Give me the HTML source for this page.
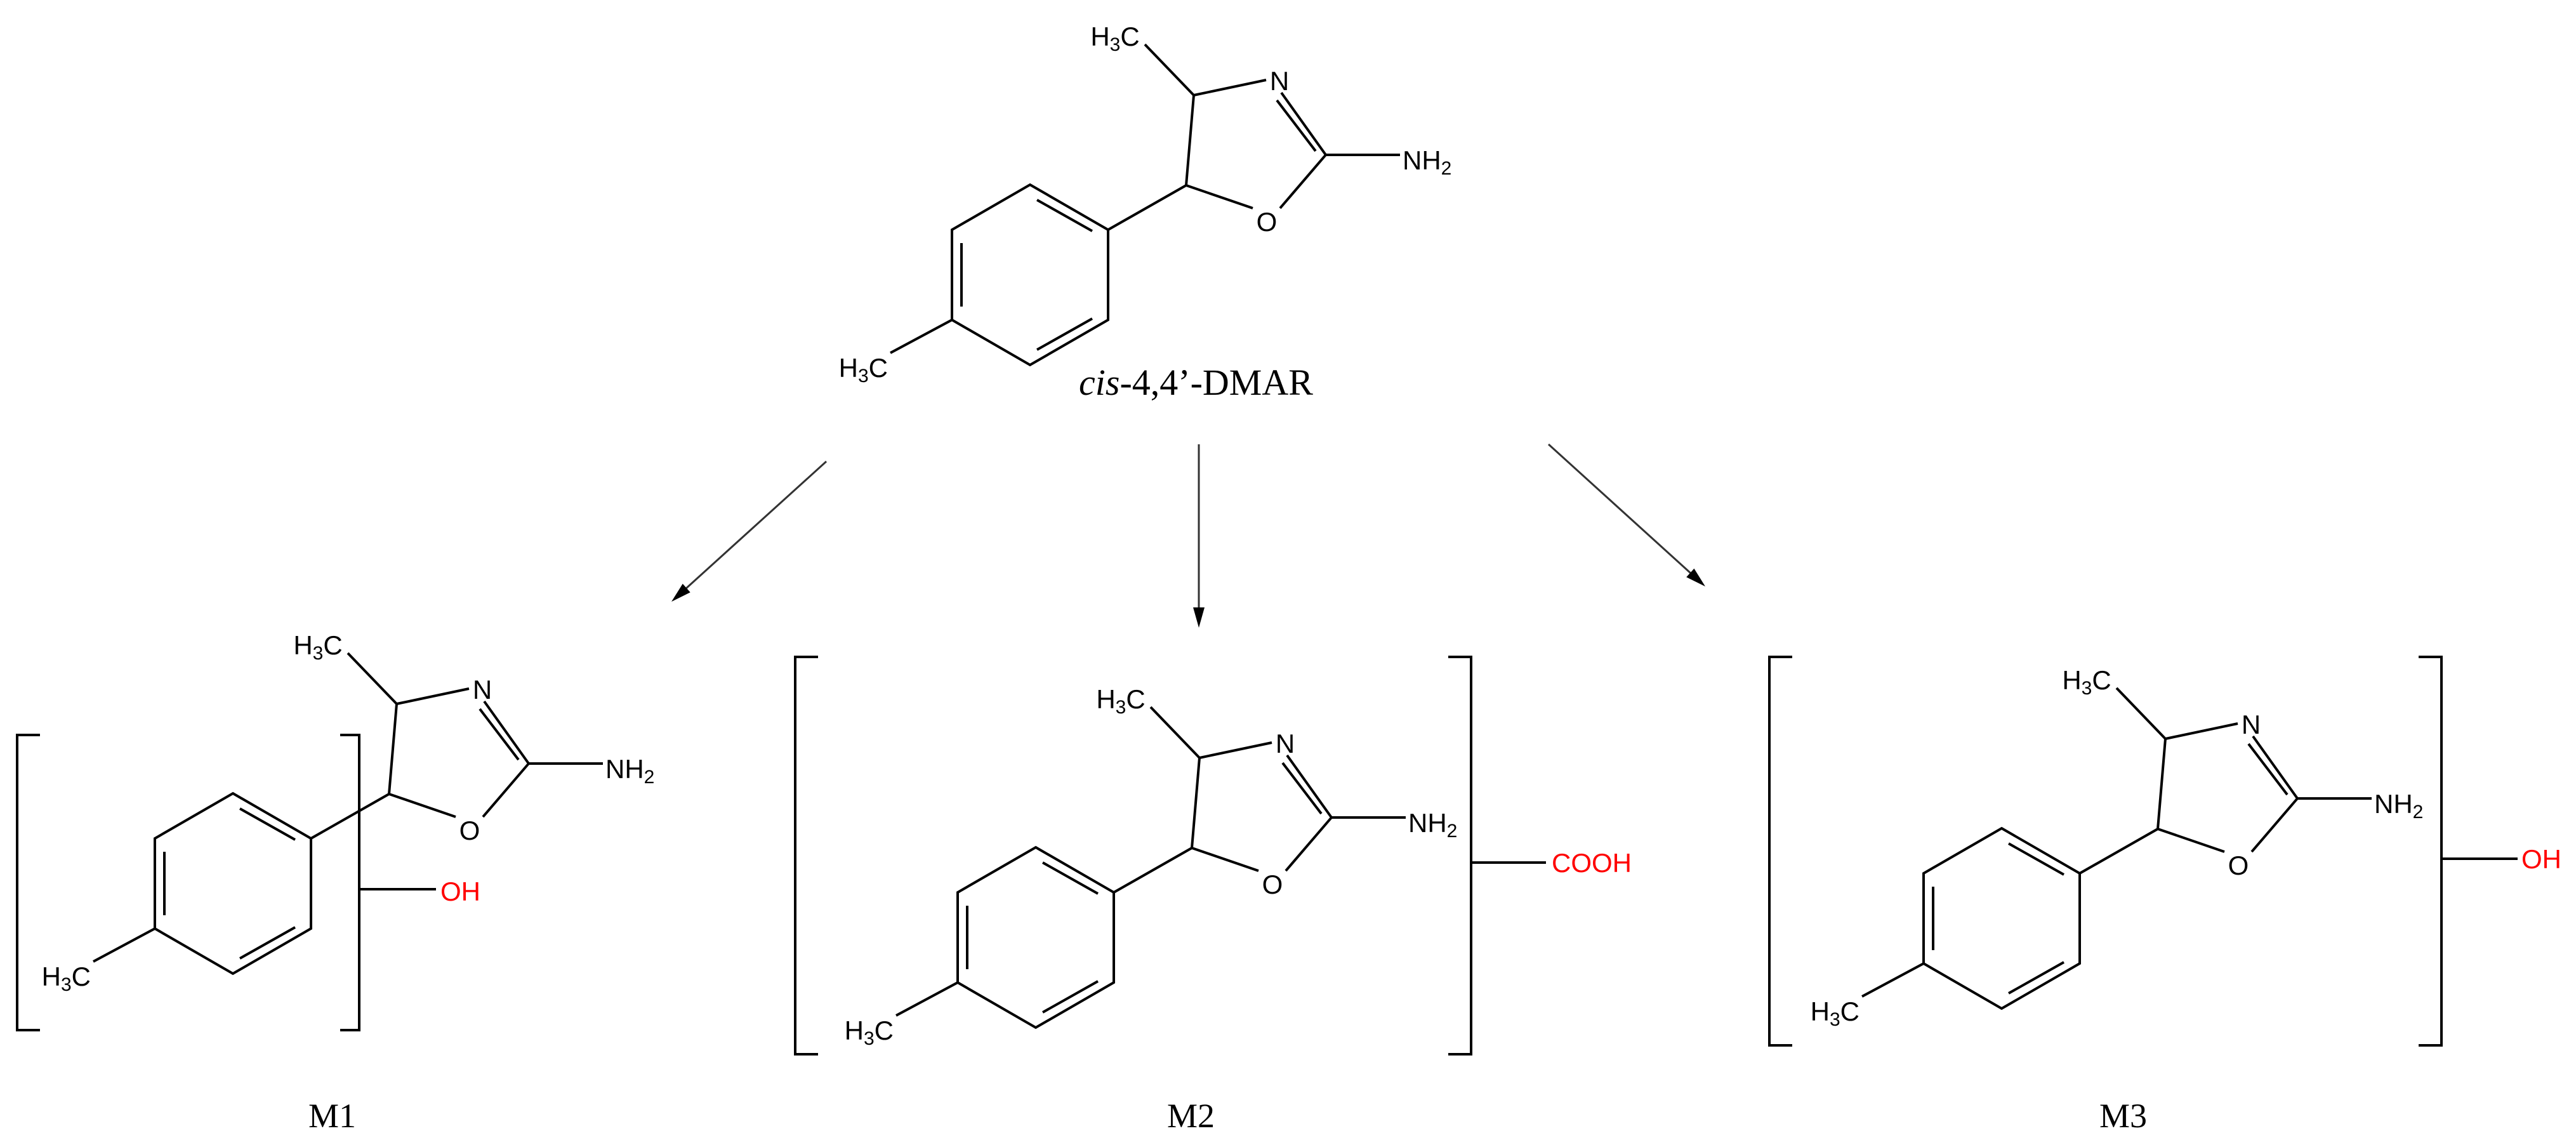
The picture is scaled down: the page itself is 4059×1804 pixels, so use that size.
<!DOCTYPE html>
<html><head><meta charset="utf-8"><style>
html,body{margin:0;padding:0;background:#fff;}
svg{display:block;}
.b{stroke:#000;stroke-width:4;fill:none;stroke-linecap:butt;}
.t{font-family:"Liberation Sans",Arial,sans-serif;font-size:42px;fill:#000;}
.r{fill:#ff0000;}
.m{font-family:"Liberation Serif","Times New Roman",serif;font-size:54px;fill:#000;}
</style></head><body>
<svg width="4059" height="1804" viewBox="0 0 4059 1804" xmlns="http://www.w3.org/2000/svg">

<!-- top molecule -->
<g transform="translate(1869,292)">
<path class="b" d="M0,0 L12,-142 M12,-142 L-65,-222 M12,-142 L126,-166 M150,-146 L220,-48 M143,-134 L204,-54 M220,-48 L337,-48 M220,-48 L148,36 M105,36 L0,0 M0,0 L-123,70 M-246,-1 L-123,70 L-123,212 L-246,283 L-369,212 L-369,70 Z M-235,23 L-148,72 M-354,91 L-354,191 M-148,210 L-235,259 M-369,212 L-466,264"/>
<text class="t" x="-112" y="-220" text-anchor="middle">H<tspan font-size="30" dy="8">3</tspan><tspan dy="-8">C</tspan></text>
<text class="t" x="147" y="-150" text-anchor="middle">N</text>
<text class="t" x="127" y="72" text-anchor="middle">O</text>
<text class="t" x="341" y="-25">NH<tspan font-size="30" dy="8">2</tspan></text>
<text class="t" x="-470" y="302" text-anchor="end">H<tspan font-size="30" dy="8">3</tspan><tspan dy="-8">C</tspan></text>
</g>
<text x="1700" y="622" style="font-family:'Liberation Serif',serif;font-size:58px"><tspan font-style="italic">cis</tspan>-4,4’-DMAR</text>

<!-- arrows -->
<g stroke="#333" stroke-width="3" fill="none">
<line x1="1302" y1="727" x2="1080" y2="928"/>
<line x1="1889" y1="700" x2="1889" y2="960"/>
<line x1="2440" y1="700" x2="2665" y2="904"/>
</g>
<polygon points="1058,948 1087.7,933.2 1075.7,919.8" fill="#000"/>
<polygon points="1889,989 1880,957 1898,957" fill="#000"/>
<polygon points="2687,924 2657.2,909.2 2669.4,895.8" fill="#000"/>

<!-- M1 -->
<g transform="translate(613,1251)">
<path class="b" d="M0,0 L12,-142 M12,-142 L-65,-222 M12,-142 L126,-166 M150,-146 L220,-48 M143,-134 L204,-54 M220,-48 L337,-48 M220,-48 L148,36 M105,36 L0,0 M0,0 L-123,70 M-246,-1 L-123,70 L-123,212 L-246,283 L-369,212 L-369,70 Z M-235,23 L-148,72 M-354,91 L-354,191 M-148,210 L-235,259 M-369,212 L-466,264"/>
<text class="t" x="-112" y="-220" text-anchor="middle">H<tspan font-size="30" dy="8">3</tspan><tspan dy="-8">C</tspan></text>
<text class="t" x="147" y="-150" text-anchor="middle">N</text>
<text class="t" x="127" y="72" text-anchor="middle">O</text>
<text class="t" x="341" y="-25">NH<tspan font-size="30" dy="8">2</tspan></text>
<text class="t" x="-470" y="302" text-anchor="end">H<tspan font-size="30" dy="8">3</tspan><tspan dy="-8">C</tspan></text>
</g>
<path class="b" d="M63,1158 L27,1158 L27,1623 L63,1623 M536,1158 L566,1158 L566,1623 L536,1623 M566,1401 L687,1401"/>
<text class="t r" x="694" y="1419">OH</text>
<text class="m" x="486" y="1776">M1</text>

<!-- M2 -->
<g transform="translate(1878,1336)">
<path class="b" d="M0,0 L12,-142 M12,-142 L-65,-222 M12,-142 L126,-166 M150,-146 L220,-48 M143,-134 L204,-54 M220,-48 L337,-48 M220,-48 L148,36 M105,36 L0,0 M0,0 L-123,70 M-246,-1 L-123,70 L-123,212 L-246,283 L-369,212 L-369,70 Z M-235,23 L-148,72 M-354,91 L-354,191 M-148,210 L-235,259 M-369,212 L-466,264"/>
<text class="t" x="-112" y="-220" text-anchor="middle">H<tspan font-size="30" dy="8">3</tspan><tspan dy="-8">C</tspan></text>
<text class="t" x="147" y="-150" text-anchor="middle">N</text>
<text class="t" x="127" y="72" text-anchor="middle">O</text>
<text class="t" x="341" y="-25">NH<tspan font-size="30" dy="8">2</tspan></text>
<text class="t" x="-470" y="302" text-anchor="end">H<tspan font-size="30" dy="8">3</tspan><tspan dy="-8">C</tspan></text>
</g>
<path class="b" d="M1289,1035 L1253,1035 L1253,1661 L1289,1661 M2282,1035 L2318,1035 L2318,1661 L2282,1661 M2318,1359 L2436,1359"/>
<text class="t r" x="2445" y="1374">COOH</text>
<text class="m" x="1839" y="1776">M2</text>

<!-- M3 -->
<g transform="translate(3400,1306)">
<path class="b" d="M0,0 L12,-142 M12,-142 L-65,-222 M12,-142 L126,-166 M150,-146 L220,-48 M143,-134 L204,-54 M220,-48 L337,-48 M220,-48 L148,36 M105,36 L0,0 M0,0 L-123,70 M-246,-1 L-123,70 L-123,212 L-246,283 L-369,212 L-369,70 Z M-235,23 L-148,72 M-354,91 L-354,191 M-148,210 L-235,259 M-369,212 L-466,264"/>
<text class="t" x="-112" y="-220" text-anchor="middle">H<tspan font-size="30" dy="8">3</tspan><tspan dy="-8">C</tspan></text>
<text class="t" x="147" y="-150" text-anchor="middle">N</text>
<text class="t" x="127" y="72" text-anchor="middle">O</text>
<text class="t" x="341" y="-25">NH<tspan font-size="30" dy="8">2</tspan></text>
<text class="t" x="-470" y="302" text-anchor="end">H<tspan font-size="30" dy="8">3</tspan><tspan dy="-8">C</tspan></text>
</g>
<path class="b" d="M2824,1035 L2788,1035 L2788,1647 L2824,1647 M3811,1035 L3847,1035 L3847,1647 L3811,1647 M3847,1353 L3967,1353"/>
<text class="t r" x="3973" y="1368">OH</text>
<text class="m" x="3308" y="1776">M3</text>
</svg>
</body></html>
